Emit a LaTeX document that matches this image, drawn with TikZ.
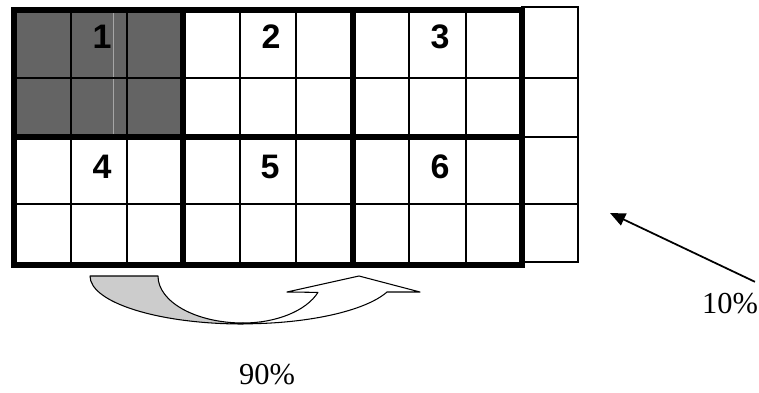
\documentclass[tikz,border=0pt]{standalone}
\usepackage{fontspec}
\setmainfont{Liberation Serif}
\newfontfamily\blockfont{Liberation Sans}
\usetikzlibrary{arrows.meta}
\definecolor{blockgray}{RGB}{100,100,100}
\definecolor{ribbongray}{RGB}{204,204,204}
\begin{document}
\begin{tikzpicture}[x=0.03cm,y=0.03cm,line cap=rect,line join=miter,
  thinline/.style={line width=1.9pt},
  thickline/.style={line width=4.8pt},
  digit/.style={font=\blockfont\bfseries\fontsize{29}{32}\selectfont,inner sep=0pt},
  pct/.style={font=\fontsize{26}{30}\selectfont,inner sep=0pt},
  ribbon/.style={line width=0.9pt,line join=round}]
  \useasboundingbox (0,0) rectangle (759,-392);
  % shaded block
  \fill[blockgray] (14,-10) rectangle (183,-137);
  \draw[gray!70,line width=0.6pt] (113,-10) -- (113,-137);
  % thin grid
  \foreach \x in {71,127,240,296,409,466}
    \draw[thinline] (\x,-10) -- (\x,-265);
  \foreach \y in {78,204}
    \draw[thinline] (14,-\y) -- (522,-\y);
  % extra column
  \draw[thinline] (522,-7) -- (578,-7) -- (578,-262) -- (522,-262);
  \foreach \y in {78,137,204}
    \draw[thinline] (522,-\y) -- (578,-\y);
  % thick block borders
  \draw[thickline] (14,-10) rectangle (522,-265);
  \foreach \x in {183,353}
    \draw[thickline] (\x,-10) -- (\x,-265);
  \draw[thickline] (14,-137) -- (522,-137);
  % block numbers
  \node[digit] (n1) at (102,-37) {1};
  \node[digit] (n2) at (271,-37) {2};
  \node[digit] (n3) at (440,-37) {3};
  \node[digit] (n4) at (102,-167) {4};
  \node[digit] (n5) at (270,-167) {5};
  \node[digit] (n6) at (440,-167) {6};
  % curved arrow
  \draw[ribbon,fill=ribbongray] (90,-276) -- (158,-276)
    arc[start angle=180,end angle=270,x radius=85,y radius=47]
    -- (243,-324) arc[start angle=270,end angle=180,x radius=153,y radius=48]
    -- cycle;
  \draw[ribbon,fill=white] (243,-323)
    arc[start angle=270,end angle=339.6,x radius=80,y radius=47]
    -- (287,-292) -- (359,-276) -- (420,-292) -- (387,-292)
    arc[start angle=340.3,end angle=270,x radius=153,y radius=48]
    -- cycle;
  % labels
  \node[pct] (ninety) at (267,-375) {90\%};
  \node[pct] (ten) at (730,-304) {10\%};
  \coordinate (aim) at (610,-213);
  \draw[line width=1.5pt,-{Triangle[length=13pt,width=11pt]}]
    ([shift={(-4,12)}]ten.north east) -- (aim);
\end{tikzpicture}
\end{document}
